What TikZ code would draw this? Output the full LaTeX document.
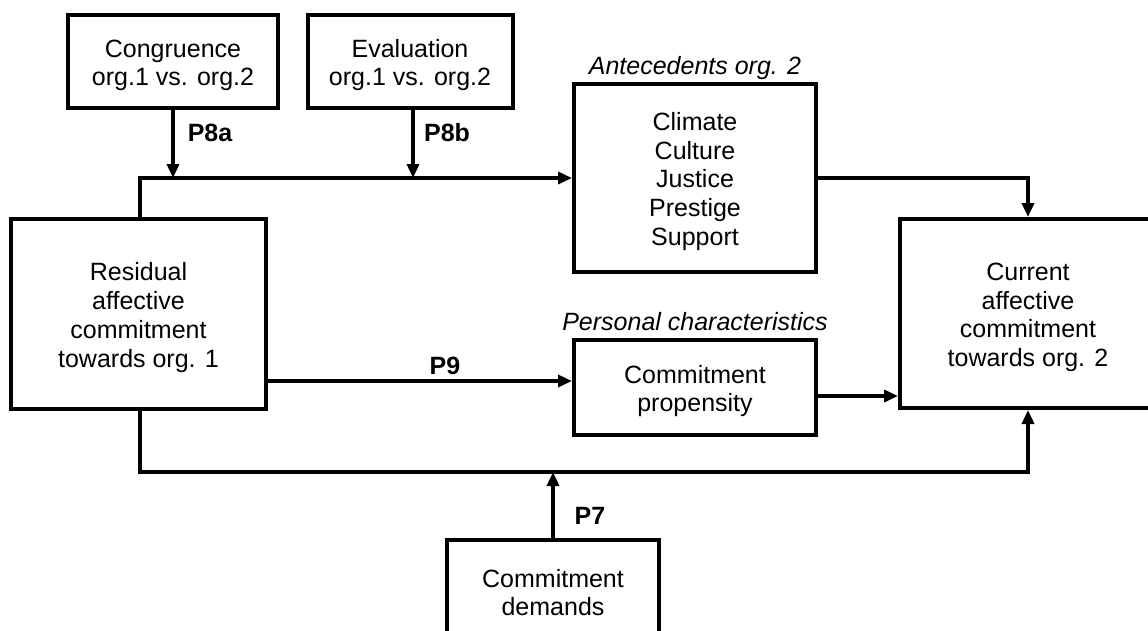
\documentclass[tikz,border=0pt]{standalone}
\usepackage{fontspec}
\setmainfont{Liberation Sans}
\usetikzlibrary{arrows.meta}
\newcommand{\topstrut}{\rule{0pt}{25pt}}
\begin{document}
\begin{tikzpicture}[x=1pt,y=-1pt,
  every node/.style={font=\fontsize{25}{28.75}\selectfont},
  box/.style={draw,line width=4pt,align=center,inner sep=0pt},
  arr/.style={line width=3.5pt,-{Triangle[length=14pt,width=12pt]}},
  plabel/.style={font=\fontsize{25}{28.75}\selectfont\bfseries},
  boxcaption/.style={font=\fontsize{25}{28.75}\selectfont\itshape}]
\useasboundingbox (0,0) rectangle (1148,630);
\clip (0,0) rectangle (1148,630);

% boxes
\node[box,minimum width=210pt,minimum height=93pt] (cong) at (173,61.5) {\topstrut Congruence\\org.1 vs. org.2};
\node[box,minimum width=205pt,minimum height=93pt] (eval) at (410,61.5) {\topstrut Evaluation\\org.1 vs. org.2};
\node[box,minimum width=242pt,minimum height=188pt] (ante) at (695,178) {\topstrut Climate\\Culture\\Justice\\Prestige\\Support};
\node[box,minimum width=255pt,minimum height=190pt] (res) at (138.5,314) {\topstrut Residual\\affective\\commitment\\towards org. 1};
\node[box,minimum width=242pt,minimum height=95pt] (prop) at (695,387.5) {\topstrut Commitment\\propensity};
\node[box,minimum width=256pt,minimum height=189pt] (cur) at (1028,313.5) {\topstrut Current\\affective\\commitment\\towards org. 2};
\node[box,minimum width=212pt,minimum height=98pt] (dem) at (553,589) {\topstrut Commitment\\demands};

% captions above boxes
\node[boxcaption] (antecap) at (695,68) {Antecedents org. 2};
\node[boxcaption] (propcap) at (695,322) {Personal characteristics};

% junction points
\coordinate (ja) at (cong.south |- ante.west);
\coordinate (jb) at ([xshift=3pt]eval.south |- ante.west);
\coordinate (p9in) at ([yshift=6.5pt]prop.west);
\coordinate (pout) at ([yshift=-8.5pt]prop.east);
\coordinate (bus) at (dem.north |- 0,472);

% connectors
\draw[arr] ([xshift=1.5pt]res.north) |- (ante.west);
\draw[arr] (cong.south) -- (ja);
\draw[arr] ([xshift=3pt]eval.south) -- (jb);
\draw[arr] (ante.east) -| (cur.north);
\draw[arr] (res.east |- p9in) -- (p9in);
\draw[arr] (pout) -- (cur.west |- pout);
\draw[arr] ([xshift=1.5pt]res.south) |- (bus) -| (cur.south);
\draw[arr] (dem.north) -- (bus);

% path labels
\node[plabel] (l8a) at (210,133) {P8a};
\node[plabel] (l8b) at (447,133) {P8b};
\node[plabel] (l9) at (445,366) {P9};
\node[plabel] (l7) at (590,516) {P7};
\end{tikzpicture}
\end{document}
